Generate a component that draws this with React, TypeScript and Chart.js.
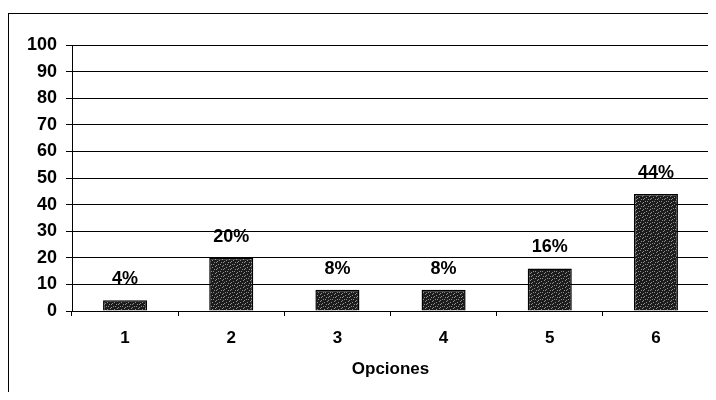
import React, { useEffect, useRef } from "react";
import { Chart, registerables } from "chart.js";

Chart.register(...registerables);

const categories = ["1", "2", "3", "4", "5", "6"];
const values = [4, 20, 8, 8, 16, 44];
const valueLabels = ["4%", "20%", "8%", "8%", "16%", "44%"];
const yMin = 0;
const yMax = 100;
const yStep = 10;
const xTitle = "Opciones";

const FONT = "'Liberation Sans', Arial, sans-serif";

function makePattern(): CanvasPattern | string {
  const c = document.createElement("canvas");
  c.width = 7;
  c.height = 7;
  const g = c.getContext("2d");
  if (!g) return "#222";
  g.fillStyle = "#1c1c1c";
  g.fillRect(0, 0, 7, 7);
  g.fillStyle = "#8e8e8e";
  const dots = [
    [0, 1], [3, 0], [5, 2], [2, 3], [6, 5], [1, 5], [4, 6], [4, 3],
  ];
  dots.forEach(([x, y]) => g.fillRect(x, y, 1, 1));
  const p = g.createPattern(c, "repeat");
  return p || "#222";
}

const labelPlugin = {
  id: "valueLabels",
  afterDatasetsDraw(chart: any) {
    const { ctx } = chart;
    const meta = chart.getDatasetMeta(0);
    ctx.save();
    ctx.font = `bold 18px ${FONT}`;
    ctx.fillStyle = "#000";
    ctx.textAlign = "center";
    ctx.textBaseline = "middle";
    meta.data.forEach((bar: any, i: number) => {
      ctx.fillText(valueLabels[i], bar.x, bar.y - 21);
    });
    ctx.restore();
  },
  afterDraw(chart: any) {
    const { ctx, chartArea } = chart;
    ctx.save();
    ctx.strokeStyle = "#000";
    ctx.lineWidth = 1;
    ctx.beginPath();
    const x = Math.round(chartArea.right) + 0.5;
    ctx.moveTo(x, chartArea.top);
    ctx.lineTo(x, chartArea.bottom);
    ctx.stroke();
    ctx.restore();
  },
};

export default function App() {
  const ref = useRef<HTMLCanvasElement | null>(null);

  useEffect(() => {
    if (!ref.current) return;
    const chart = new Chart(ref.current, {
      type: "bar",
      data: {
        labels: categories,
        datasets: [
          {
            data: values,
            backgroundColor: makePattern() as any,
            borderColor: "#000",
            borderWidth: 1.5,
            barPercentage: 0.415,
            categoryPercentage: 1,
          },
        ],
      },
      options: {
        responsive: false,
        animation: false,
        devicePixelRatio: 1,
        layout: { padding: { top: 31, right: 7, left: 0, bottom: 0 } },
        plugins: {
          legend: { display: false },
          tooltip: { enabled: false },
        },
        scales: {
          x: {
            grid: {
              display: true,
              drawOnChartArea: false,
              drawTicks: true,
              tickLength: 5,
              color: "#000",
            },
            border: { display: true, color: "#000", width: 1 },
            ticks: {
              color: "#000",
              padding: 12,
              font: { family: FONT, size: 17, weight: "bold" },
            },
            title: {
              display: true,
              text: xTitle,
              color: "#000",
              font: { family: FONT, size: 17, weight: "bold" },
              padding: { top: 0, bottom: 20 },
            },
            afterFit(scale: any) {
              scale.height = 89;
            },
          },
          y: {
            min: yMin,
            max: yMax,
            ticks: {
              stepSize: yStep,
              color: "#000",
              padding: 9,
              font: { family: FONT, size: 18, weight: "bold" },
            },
            grid: {
              color: "#000",
              lineWidth: 1,
              drawTicks: true,
              tickLength: 6,
            },
            border: { display: true, color: "#000", width: 1 },
            afterFit(scale: any) {
              scale.width = 63;
            },
          },
        },
      },
      plugins: [labelPlugin],
    } as any);
    return () => chart.destroy();
  }, []);

  return (
    <div style={{ paddingTop: 5, width: 708, height: 387, marginBottom: -8, overflow: "hidden" }}>
      <div
        style={{
          borderTop: "1px solid #000",
          borderLeft: "1px solid #000",
          width: 720,
          height: 386,
          background: "#fff",
        }}
      >
        <canvas ref={ref} width={707} height={386} style={{ display: "block", width: 707, height: 386 }} />
      </div>
    </div>
  );
}
